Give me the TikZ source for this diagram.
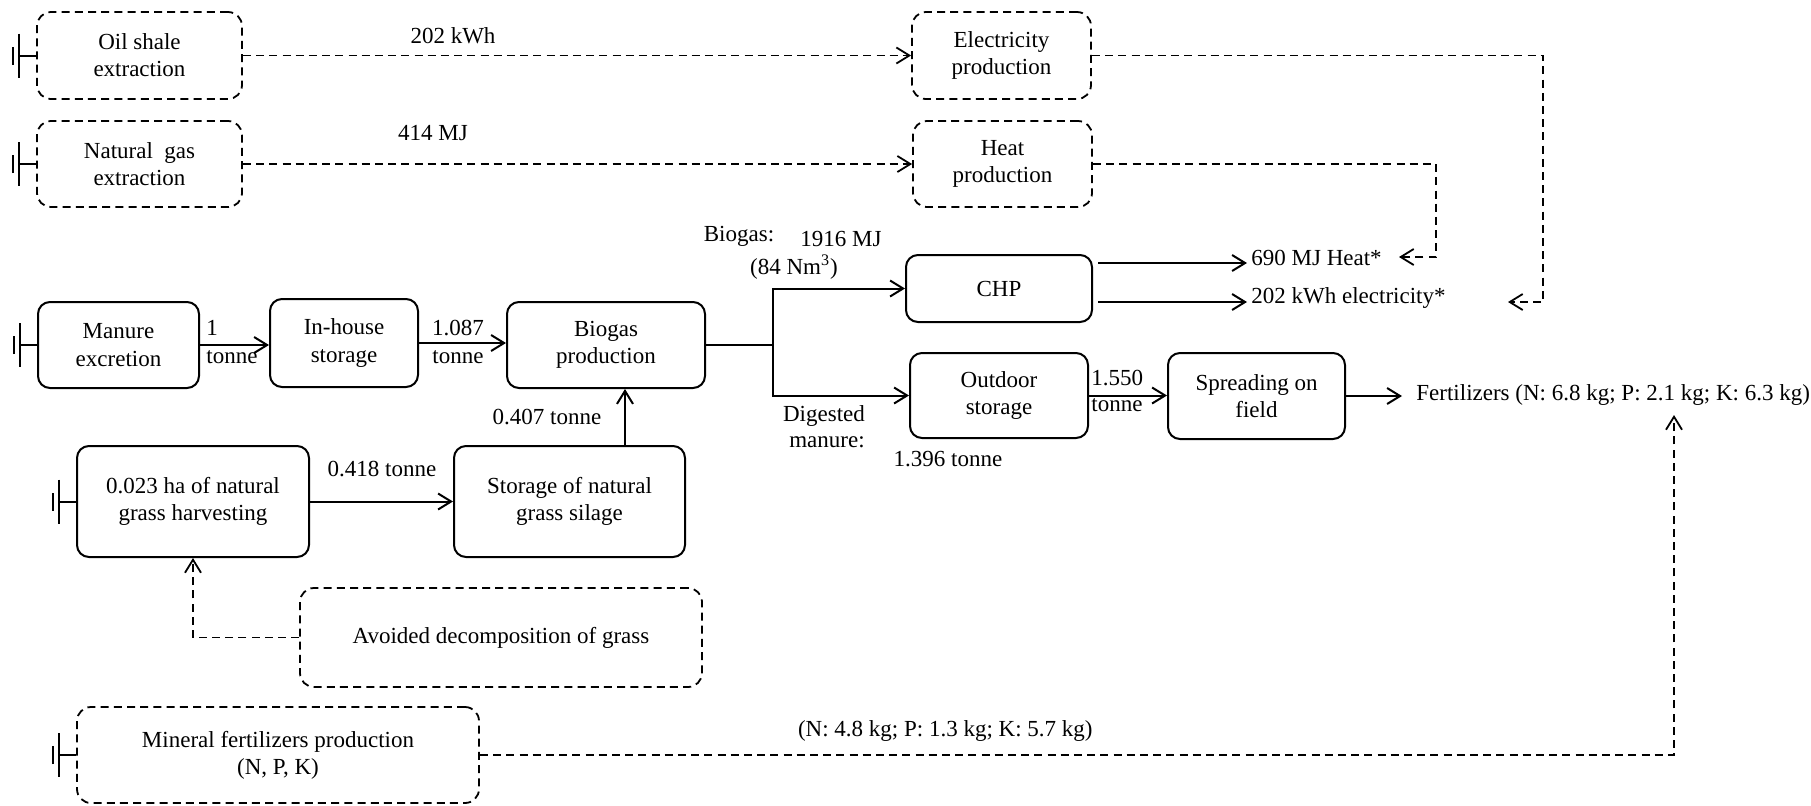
\documentclass[tikz,border=0pt]{standalone}
\usepackage{fontspec}
\setmainfont{Liberation Serif}
\usetikzlibrary{arrows.meta}
\newcommand\groundsym[1]{\draw[gndline] (#1.west) -- ++(-17,0) ++(0,-22) -- ++(0,44) ++(-6,-13) -- ++(0,-18);}
\begin{document}
\begin{tikzpicture}[x=0.5pt,y=-0.5pt,
  font=\fontsize{11.5}{13.6}\selectfont,
  sbox/.style={draw, line width=1pt, rounded corners=6pt, align=center, inner sep=0pt},
  dbox/.style={draw, line width=0.9pt, dash pattern=on 4pt off 2.6pt, rounded corners=7pt, align=center, inner sep=0pt},
  lbl/.style={inner sep=0pt, align=center},
  arr/.style={line width=1pt, -{Straight Barb[length=6.5pt,width=8pt,line width=1pt]}},
  darr/.style={line width=0.9pt, dash pattern=on 4pt off 2.6pt, -{Straight Barb[length=6.5pt,width=8pt,line width=0.9pt]}},
  gndline/.style={line width=1pt}]
\useasboundingbox (0,0) rectangle (1811,805);

% boxes
\node[dbox, minimum width=102.5pt, minimum height=43.5pt] (oil) at (139.5,55.5) {Oil shale\\extraction};
\node[dbox, minimum width=102.5pt, minimum height=43pt] (gas) at (139.5,164) {Natural\ \ gas\\extraction};
\node[dbox, minimum width=89.5pt, minimum height=43.5pt] (elec) at (1001.5,55.5) {Electricity\\production};
\node[dbox, minimum width=89.5pt, minimum height=43pt] (heat) at (1002.5,164) {Heat\\production};
\node[sbox, minimum width=80.5pt, minimum height=43pt] (manure) at (118.5,345) {Manure\\excretion};
\node[sbox, minimum width=74pt, minimum height=44pt] (inhouse) at (344,343) {In-house\\storage};
\node[sbox, minimum width=99pt, minimum height=43pt] (biogas) at (606,345) {Biogas\\production};
\node[sbox, minimum width=93pt, minimum height=33.5pt] (chp) at (999,288.5) {CHP};
\node[sbox, minimum width=89pt, minimum height=42.5pt] (outdoor) at (999,395.5) {Outdoor\\storage};
\node[sbox, minimum width=88.5pt, minimum height=43pt] (spread) at (1256.5,396) {Spreading on\\field};
\node[sbox, minimum width=116pt, minimum height=55.5pt] (harvest) at (193,501.5) {0.023 ha of natural\\grass harvesting};
\node[sbox, minimum width=115.5pt, minimum height=55.5pt] (silage) at (569.5,501.5) {Storage of natural\\grass silage};
\node[dbox, minimum width=201pt, minimum height=49.5pt] (avoided) at (501,637.5) {Avoided decomposition of grass};
\node[dbox, minimum width=201pt, minimum height=48pt] (mineral) at (278,755) {Mineral fertilizers production\\(N, P, K)};

% ground symbols
\groundsym{oil}
\groundsym{gas}
\groundsym{manure}
\groundsym{harvest}
\groundsym{mineral}

% labels
\node[lbl] (l202) at (453,36) {202 kWh};
\node[lbl] (l414) at (433,133) {414 MJ};
\node[lbl, anchor=west] (l1a) at (206,328) {1};
\node[lbl, anchor=west] (l1b) at (206,357) {tonne};
\node[lbl] (l1087a) at (458,328) {1.087};
\node[lbl] (l1087b) at (458,357) {tonne};
\node[lbl] (l407) at (547,417) {0.407 tonne};
\node[lbl] (l418) at (382,469) {0.418 tonne};
\node[lbl] (lbiogas) at (739,236) {Biogas:};
\node[lbl] (l1916) at (841,239) {1916 MJ};
\node[lbl] (l84) at (794,267) {(84 Nm\textsuperscript{3})};
\node[lbl] (ldig) at (824,416) {Digested};
\node[lbl] (lman) at (827,442) {manure:};
\node[lbl] (l1396) at (948,459) {1.396 tonne};
\node[lbl, anchor=west] (l1550a) at (1091,378) {1.550};
\node[lbl, anchor=west] (l1550b) at (1091,405) {tonne};
\node[lbl, anchor=west] (lheat) at (1251,258) {690 MJ Heat*};
\node[lbl, anchor=west] (lelec) at (1251,298) {202 kWh electricity*};
\node[lbl, anchor=west] (fert) at (1416,395) {Fertilizers (N: 6.8 kg; P: 2.1 kg; K: 6.3 kg)};
\node[lbl, anchor=east] (lmin) at (1093,731) {(N: 4.8 kg; P: 1.3 kg; K: 5.7 kg)};

% coordinates for free ends and bends
\coordinate (br) at (773,345);
\coordinate (heatend) at (1247,263);
\coordinate (elecend) at (1247,302);
\coordinate (hc) at (1436,257);
\coordinate (heatin) at (1399,257);
\coordinate (ec) at (1543,302);
\coordinate (elecin) at (1508,302);
\coordinate (fertin) at (1402,396);
\coordinate (fup) at (1674,415);
\coordinate (vx) at (625,420);

% dashed connectors
\draw[darr] (oil.east) -- (elec.west);
\draw[darr] (gas.east) -- (heat.west);
\draw[darr] (elec.east) -| (ec) -- (elecin);
\draw[darr] (heat.east) -| (hc) -- (heatin);
\draw[darr] (avoided.west) -| (harvest.south);
\draw[darr] (mineral.east) -| (fup);

% solid connectors
\draw[arr] (manure.east) -- (manure.east -| inhouse.west);
\draw[arr] (inhouse.east) -- (inhouse.east -| biogas.west);
\draw[line width=1pt] (biogas.east) -- (br);
\draw[arr] (br) |- (chp.west);
\draw[arr] (br) |- (outdoor.west);
\draw[arr] (chp.east |- heatend) ++(2.5pt,0) -- (heatend);
\draw[arr] (chp.east |- elecend) ++(2.5pt,0) -- (elecend);
\draw[arr] (outdoor.east) -- (outdoor.east -| spread.west);
\draw[arr] (spread.east) -- (fertin);
\draw[arr] (harvest.east) -- (silage.west);
\draw[arr] (silage.north -| vx) -- (biogas.south -| vx);
\end{tikzpicture}
\end{document}
